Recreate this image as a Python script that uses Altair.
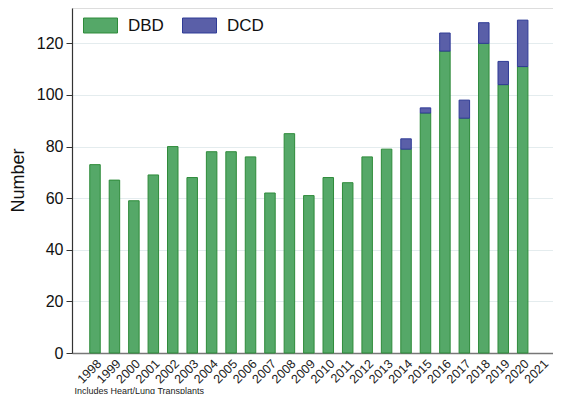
import altair as alt
import pandas as pd

years = [str(y) for y in range(1998, 2022)]
bar_years = [str(y) for y in range(1998, 2021)]
dbd = [73, 67, 59, 69, 80, 68, 78, 78, 76, 62, 85, 61, 68, 66, 76, 79,
       79, 93, 117, 91, 120, 104, 111]
dcd = [0] * 16 + [4, 2, 7, 7, 8, 9, 18]
types = ["DBD", "DCD"]
fills = ["#55a868", "#5a5fa8"]
strokes = ["#2e8b3a", "#2f3b96"]
y_ticks = [0, 20, 40, 60, 80, 100, 120]

rows = []
for yr, a, b in zip(bar_years, dbd, dcd):
    rows.append({"year": yr, "type": "DBD", "ord": 0, "value": a})
    if b > 0:
        rows.append({"year": yr, "type": "DCD", "ord": 1, "value": b})
df = pd.DataFrame(rows)

legend_opts = dict(title=None, orient="none", legendX=11, legendY=0,
                   direction="horizontal", columns=2, columnPadding=16,
                   symbolType="M-1,-0.44H1V0.44H-1Z", symbolSize=1156,
                   symbolStrokeWidth=1, labelFontSize=17, labelOffset=10,
                   labelColor="#111", padding=0)

chart = alt.Chart(df).mark_bar(strokeWidth=1).encode(
    x=alt.X("year:O",
            scale=alt.Scale(domain=years, paddingInner=0.46, paddingOuter=0.6015, align=0.759),
            axis=alt.Axis(title="Includes Heart/Lung Transplants", labelAngle=-45,
                          labelAlign="right", labelBaseline="top", labelPadding=4,
                          labelFontSize=12.5, labelColor="#222", ticks=False,
                          domainColor="#777", domainWidth=1.5, grid=False,
                          titleFontSize=9, titleFontWeight="normal", titleColor="#222",
                          titleAnchor="start", titleAlign="left", titleBaseline="alphabetic",
                          titleX=2, titleY=40)),
    y=alt.Y("value:Q", stack="zero",
            scale=alt.Scale(domain=[0, 133.7], nice=False),
            axis=alt.Axis(title="Number", values=y_ticks, labelFontSize=16, labelColor="#111",
                          tickSize=6, tickColor="#333", labelPadding=3,
                          domainColor="#333", domainWidth=1.2,
                          gridColor="#e4ecee", gridWidth=1,
                          titleFontSize=18, titleFontWeight="normal", titleColor="#111",
                          titleAngle=-90, titleAlign="center", titleBaseline="middle",
                          titleX=-54, titleY=172)),
    fill=alt.Fill("type:N", scale=alt.Scale(domain=types, range=fills),
                  legend=alt.Legend(**legend_opts)),
    stroke=alt.Stroke("type:N", scale=alt.Scale(domain=types, range=strokes),
                      legend=alt.Legend(**legend_opts)),
    order=alt.Order("ord:Q", sort="ascending"),
).properties(
    width=481, height=345,
    autosize=alt.AutoSizeParams(type="none"),
    padding={"left": 64, "top": 0, "right": 0, "bottom": 41},
    background="white",
).configure_view(stroke=None).configure(font="Liberation Sans")

chart.save("out.html", embed_options={"renderer": "svg", "actions": False})
